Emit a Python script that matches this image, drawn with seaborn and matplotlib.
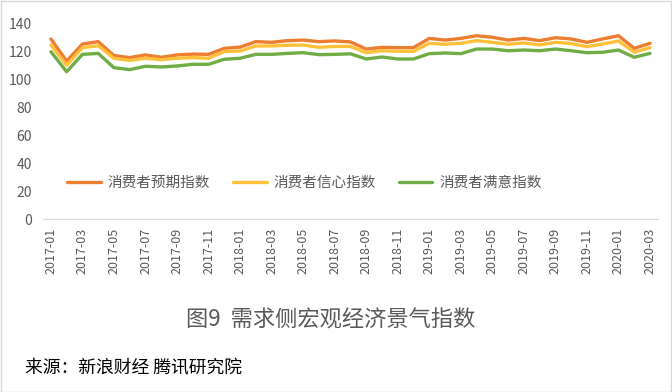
import numpy as np
import pandas as pd
import matplotlib
matplotlib.use("Agg")
import matplotlib.pyplot as plt
import seaborn as sns
from matplotlib.patches import Rectangle

months = [str(p) for p in pd.period_range("2017-01", "2020-03", freq="M")]

expect_idx = [128.8, 113.0, 125.2, 126.9, 116.9, 115.5, 117.4, 115.7, 117.4, 118.0,
              117.8, 122.1, 123.0, 126.9, 126.4, 127.6, 128.0, 126.9, 127.4, 126.7,
              121.6, 122.8, 122.6, 122.6, 129.2, 128.0, 129.2, 131.1, 130.0, 128.0,
              129.2, 127.6, 129.7, 128.8, 126.4, 128.8, 131.1, 122.1, 125.7]
confid_idx = [124.5, 110.0, 122.6, 124.0, 115.0, 113.5, 115.0, 114.0, 115.0, 115.5,
              115.0, 119.8, 120.2, 123.8, 123.8, 124.3, 124.5, 122.8, 123.5, 123.5,
              119.0, 120.4, 120.0, 120.0, 125.7, 125.0, 125.7, 127.6, 126.4, 125.0,
              126.0, 124.5, 126.4, 125.5, 123.3, 125.2, 127.4, 119.3, 122.6]
satisf_idx = [119.7, 105.4, 117.8, 118.5, 108.3, 106.9, 109.3, 108.8, 109.5, 110.7,
              110.7, 114.3, 115.0, 117.8, 117.8, 118.5, 119.0, 117.6, 117.8, 118.2,
              114.5, 115.9, 114.5, 114.5, 118.3, 118.8, 118.3, 121.6, 121.6, 120.4,
              120.9, 120.4, 121.6, 120.4, 119.0, 119.3, 120.9, 115.7, 118.5]

series_names = ["消费者预期指数", "消费者信心指数", "消费者满意指数"]
colors = ["#ED7D31", "#FFC03A", "#70AD47"]

sns.set_style("white")
plt.rcParams["font.family"] = ["Noto Sans CJK SC", "DejaVu Sans"]

df = pd.DataFrame({"pos": np.arange(len(months)),
                   series_names[0]: expect_idx,
                   series_names[1]: confid_idx,
                   series_names[2]: satisf_idx})
long_df = df.melt(id_vars="pos", var_name="指标", value_name="值")

fig = plt.figure(figsize=(6.72, 3.92), dpi=100)
ax = fig.add_axes([0.064, 0.4406, 0.915, 0.5])
sns.lineplot(data=long_df, x="pos", y="值", hue="指标", palette=colors,
             linewidth=2.4, ax=ax)

ax.set_xlim(-0.5, len(months) - 0.5)
ax.set_ylim(0, 140)
ax.set_yticks(range(0, 141, 20))
ax.set_xticks(np.arange(0, len(months), 2))
ax.set_xticklabels(months[::2], rotation=90, fontsize=9, color="#595959")
ax.set_xticks(np.arange(-0.5, len(months), 1), minor=True)
ax.tick_params(axis="x", which="major", length=0, pad=6)
ax.tick_params(axis="x", which="minor", length=4, color="#D9D9D9", width=0.8)
ax.tick_params(axis="y", length=0, labelsize=10, labelcolor="#595959", pad=8)
ax.set_xlabel("")
ax.set_ylabel("")
for s in ["left", "top", "right"]:
    ax.spines[s].set_visible(False)
ax.spines["bottom"].set_color("#D9D9D9")

ax.legend(loc="center left", bbox_to_anchor=(0.018, 0.185), ncol=3, frameon=False,
          fontsize=10.5, handlelength=2.3, handletextpad=0.45, columnspacing=1.6,
          labelcolor="#595959")

fig.text(0.4926, 0.1837, "图9  需求侧宏观经济景气指数", ha="center", va="center",
         fontsize=16, color="#595959")
fig.text(0.037, 0.061, "来源：新浪财经 腾讯研究院", ha="left", va="center",
         fontsize=12.8, color="black")

fig.patches.append(Rectangle((0.001, 0.001), 0.997, 0.997, transform=fig.transFigure,
                             fill=False, edgecolor="#D9D9D9", linewidth=1))

fig.savefig("out.png", dpi=100)
